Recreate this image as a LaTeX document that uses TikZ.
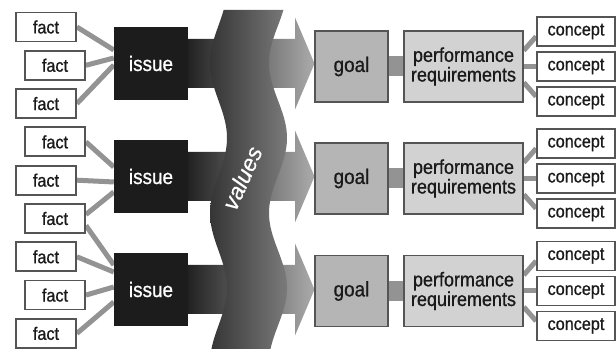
\documentclass[tikz,border=0pt]{standalone}
\usepackage{fontspec}
\setmainfont{Liberation Sans}[FakeStretch=0.9, FakeBold=0.8]
\newfontfamily\valfont{Liberation Sans}[FakeBold=0.5]
\usetikzlibrary{calc}
\pgfdeclarelayer{bg}
\pgfsetlayers{bg,main}
\definecolor{boxline}{HTML}{555555}
\definecolor{txt}{HTML}{1A1A1A}
\definecolor{issuefill}{HTML}{1C1C1C}
\definecolor{goalfill}{HTML}{B5B5B5}
\definecolor{perffill}{HTML}{D2D2D2}
\definecolor{conn}{HTML}{939393}
\definecolor{arrL}{HTML}{202020}
\definecolor{arrR}{HTML}{ABABAB}
\definecolor{bandL}{HTML}{353535}
\definecolor{bandR}{HTML}{7A7A7A}
\begin{document}
\begin{tikzpicture}[x=1pt,y=-1pt,
  smallbox/.style={draw=boxline, line width=1.8pt, fill=white, minimum width=60pt,
    minimum height=29pt, inner sep=0pt, text=txt, font=\fontsize{18}{18}\selectfont},
  conceptbox/.style={smallbox, minimum width=78pt},
  issuebox/.style={fill=issuefill, minimum width=74pt, minimum height=73pt, inner sep=0pt,
    text=white, font=\fontsize{21}{21}\selectfont},
  goalbox/.style={draw=boxline, line width=1.5pt, fill=goalfill, minimum width=73pt,
    minimum height=71pt, inner sep=0pt, text=txt, font=\fontsize{21}{21}\selectfont},
  perfbox/.style={draw=boxline, line width=1.5pt, fill=perffill, minimum width=119pt,
    minimum height=71pt, inner sep=0pt, text=txt, align=center,
    font=\fontsize{20}{18}\selectfont},
  link/.style={draw=conn, line width=5pt},
  bar/.style={draw=conn, line width=20pt},
  arrowshade/.style={left color=arrL, right color=arrR},
  bandshade/.style={left color=bandL, right color=bandR}
]
\useasboundingbox (0,0) rectangle (616,352);

% facts
\node[smallbox] (f1) at (46,27)    {fact};
\node[smallbox] (f2) at (55,65.3)  {fact};
\node[smallbox] (f3) at (46,103.6) {fact};
\node[smallbox] (f4) at (55,141.9) {fact};
\node[smallbox] (f5) at (46,180.2) {fact};
\node[smallbox] (f6) at (55,218.5) {fact};
\node[smallbox] (f7) at (46,256.8) {fact};
\node[smallbox] (f8) at (55,295.1) {fact};
\node[smallbox] (f9) at (46,333.4) {fact};

% issues
\node[issuebox] (i1) at (151,63.5)  {issue};
\node[issuebox] (i2) at (151,176.5) {issue};
\node[issuebox] (i3) at (151,289.5) {issue};

% goals
\node[goalbox] (g1) at (351.5,66.5)  {goal};
\node[goalbox] (g2) at (351.5,178.5) {goal};
\node[goalbox] (g3) at (351.5,291)   {goal};

% performance requirements
\node[perfbox] (p1) at (463.5,66.5)  {performance\\requirements};
\node[perfbox] (p2) at (463.5,178.5) {performance\\requirements};
\node[perfbox] (p3) at (463.5,291)   {performance\\requirements};

% concepts
\node[conceptbox] (c1) at (576,31.5)  {concept};
\node[conceptbox] (c2) at (576,66.5)  {concept};
\node[conceptbox] (c3) at (576,101.5) {concept};
\node[conceptbox] (c4) at (576,143.5) {concept};
\node[conceptbox] (c5) at (576,178.5) {concept};
\node[conceptbox] (c6) at (576,213.5) {concept};
\node[conceptbox] (c7) at (576,256)   {concept};
\node[conceptbox] (c8) at (576,291)   {concept};
\node[conceptbox] (c9) at (576,326)   {concept};

\begin{pgfonlayer}{bg}
  \fill[white] (0,0) rectangle (616,352);
  % fact -> issue links
  \draw[link] (f1.east) -- ([yshift=13.5pt]i1.west);
  \draw[link] (f2.east) -- ([yshift=5.5pt]i1.west);
  \draw[link] (f3.east) -- ([yshift=-1.5pt]i1.west);
  \draw[link] (f4.east) -- ([yshift=9.5pt]i2.west);
  \draw[link] (f5.east) -- ([yshift=-5.5pt]i2.west);
  \draw[link] ([yshift=4pt]f6.east) -- ([yshift=-15.5pt]i2.west);
  \draw[link] ([yshift=-7pt]f6.east) -- ([yshift=24.5pt]i3.west);
  \draw[link] (f7.east) -- ([yshift=17.5pt]i3.west);
  \draw[link] (f8.east) -- ([yshift=2.5pt]i3.west);
  \draw[link] (f9.east) -- ([yshift=-12.5pt]i3.west);

  % goal -> performance bars
  \draw[bar] (g1.east) -- (p1.west);
  \draw[bar] (g2.east) -- (p2.west);
  \draw[bar] (g3.east) -- (p3.west);

  % performance -> concept links
  \draw[link] ([yshift=16pt]p1.east) -- ([yshift=-5pt]c1.west);
  \draw[link] (p1.east) -- (c2.west);
  \draw[link] ([yshift=-16pt]p1.east) -- ([yshift=5pt]c3.west);
  \draw[link] ([yshift=16pt]p2.east) -- ([yshift=-5pt]c4.west);
  \draw[link] (p2.east) -- (c5.west);
  \draw[link] ([yshift=-16pt]p2.east) -- ([yshift=5pt]c6.west);
  \draw[link] ([yshift=16pt]p3.east) -- ([yshift=-5pt]c7.west);
  \draw[link] (p3.east) -- (c8.west);
  \draw[link] ([yshift=-16pt]p3.east) -- ([yshift=5pt]c9.west);

  % big block arrows issue -> goal
  \foreach \c in {63.5,176.5,289.5}{
    \shade[arrowshade] (186,\c-24.5) -- (295,\c-24.5) -- (295,\c-46) -- (314.5,\c)
      -- (295,\c+46) -- (295,\c+24.5) -- (186,\c+24.5) -- cycle;
  }

  % values band
  \shade[bandshade]
    plot[domain=10:349, samples=90, variable=\t] ({218.5-8.5*cos(2.4*(\t-63))},\t)
    -- plot[domain=349:10, samples=90, variable=\t] ({278-9*cos(2.4*(\t-63))},\t)
    -- cycle;
\end{pgfonlayer}

\node[rotate=66, text=white, font=\valfont\itshape\fontsize{23}{23}\selectfont]
  (val) at (242,178) {values};
\end{tikzpicture}
\end{document}
